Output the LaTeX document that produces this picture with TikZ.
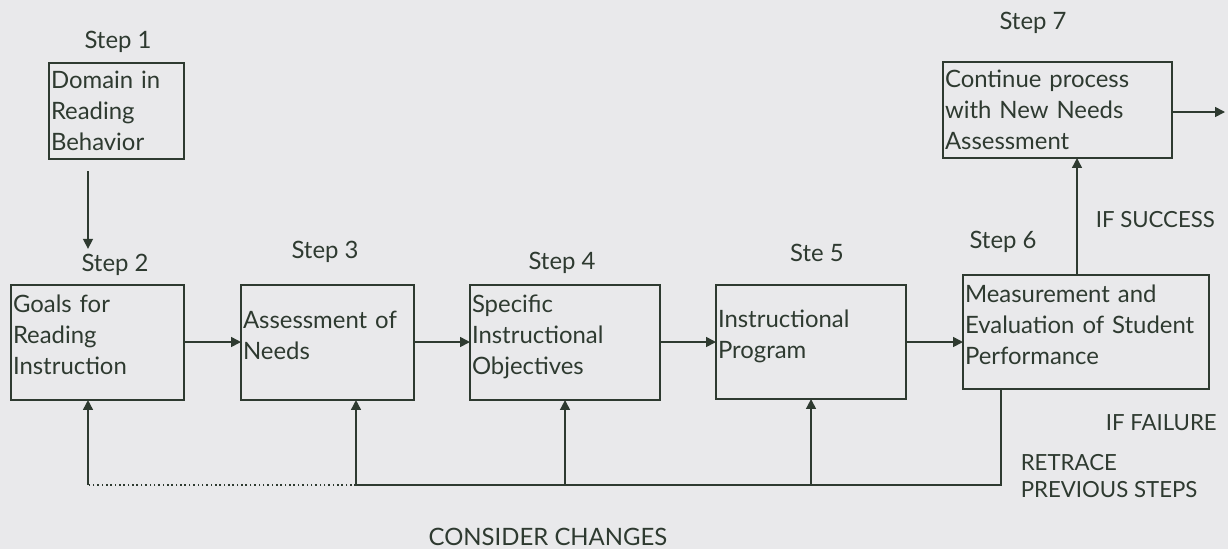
\documentclass[tikz,border=0pt]{standalone}
\usepackage{fontspec}
\setmainfont{Lato}
\usetikzlibrary{positioning,arrows.meta}
\definecolor{ink}{HTML}{2E3A30}
\definecolor{paper}{HTML}{E9E9EB}
\newcommand{\padline}{\\[-0.4cm]\mbox{}}

\begin{document}
\begin{tikzpicture}[x=0.025cm, y=-0.025cm, color=ink, line width=1.1pt,
    font=\fontsize{17}{22}\selectfont,
    box/.style={draw, align=left, anchor=north west, inner xsep=0.05cm, inner ysep=0pt, outer sep=0pt},
    caps/.style={anchor=west, inner sep=0pt, font=\fontsize{15.8}{19.5}\selectfont},
    arr/.style={-{Triangle[length=7pt,width=7pt]}}]
    \fill[paper] (0,0) rectangle (1228,549);
    \useasboundingbox (0,0) rectangle (1228,549);

    \node[box, text width=3.275cm, minimum height=2.4cm] (b1) at (49,63) {Domain in\\Reading\\Behavior};
    \node[box, text width=4.225cm, minimum height=2.875cm] (b2) at (11,285) {Goals for\\Reading\\Instruction\padline};
    \node[box, text width=4.225cm, minimum height=2.875cm] (b3) at (241,285) {Assessment of\\Needs\padline};
    \node[box, text width=4.65cm, minimum height=2.875cm] (b4) at (470,285) {Specific\\Instructional\\Objectives\padline};
    \node[box, text width=4.65cm, minimum height=2.85cm] (b5) at (716,285) {Instructional\\Program\padline};
    \node[box, text width=6.05cm, minimum height=2.85cm] (b6) at (963,275) {Measurement and\\Evaluation of Student\\Performance\padline};
    \node[box, text width=5.625cm, minimum height=2.4cm] (b7) at (943,62) {Continue process\\with New Needs\\Assessment};

    \node (s1) at (118,42) {Step 1};
    \node (s2) at (115,265) {Step 2};
    \node (s3) at (325,252) {Step 3};
    \node (s4) at (562,263) {Step 4};
    \node (s5) at (817,253) {Ste 5};
    \node (s6) at (1003,242) {Step 6};
    \node (s7) at (1033,23) {Step 7};

    \node[caps] (ok) at (1095,220) {IF SUCCESS};
    \node[caps] (fail) at (1105,423) {IF FAILURE};
    \node[caps, align=left] (back) at (1020,476) {RETRACE\\PREVIOUS STEPS};
    \node (chg) at (548,537) {CONSIDER CHANGES};

    \coordinate (d1) at (88,171);
    \coordinate (mid) at (0,342);
    \coordinate (up) at (1077,0);
    \coordinate (out) at (1225,112);
    \coordinate (fb) at (1001,485);
    \coordinate (r2) at (88,485);
    \coordinate (r3) at (356,485);

    \draw[arr] (d1) -- (d1 |- s2.north);
    \draw[arr] (b2.east |- mid) -- (b3.west |- mid);
    \draw[arr] (b3.east |- mid) -- (b4.west |- mid);
    \draw[arr] (b4.east |- mid) -- (b5.west |- mid);
    \draw[arr] (b5.east |- mid) -- (b6.west |- mid);
    \draw[arr] (b6.north -| up) -- (b7.south -| up);
    \draw[arr] (b7.east |- out) -- (out);

    \draw (b6.south -| fb) |- (r3);
    \draw[dotted] (r3) -- (r2);
    \draw[arr] (r2) -- (r2 |- b2.south);
    \draw[arr] (r3) -- (r3 |- b3.south);
    \draw[arr] (b4.south |- fb) -- (b4.south);
    \draw[arr] (b5.south |- fb) -- (b5.south);
\end{tikzpicture}
\end{document}
